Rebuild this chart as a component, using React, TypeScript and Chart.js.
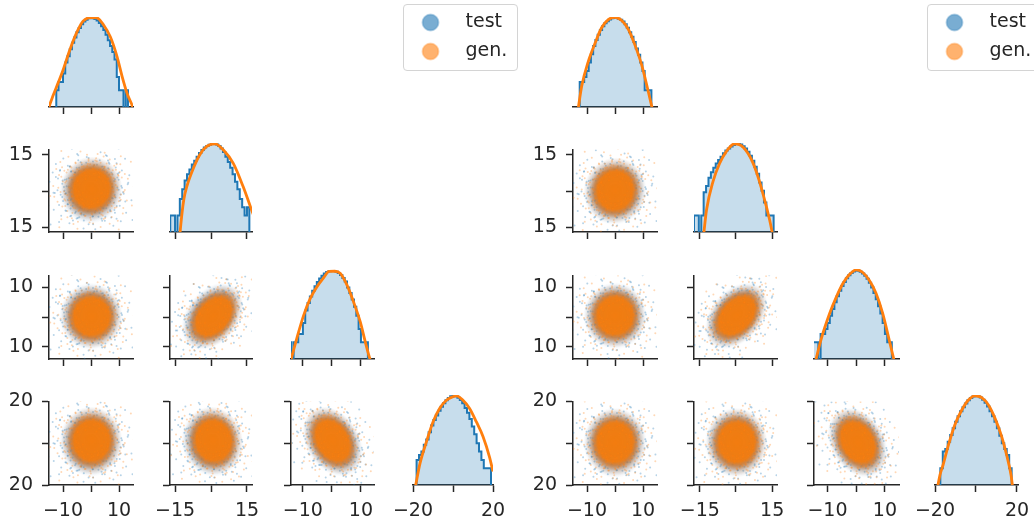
import React, { useEffect, useRef } from 'react';
import { Chart, registerables } from 'chart.js';

Chart.register(...registerables);

const FONT = "'DejaVu Sans', 'Liberation Sans', sans-serif";
const INK = '#262626';
Chart.defaults.font.family = FONT;
Chart.defaults.color = INK;

// ---------------- tick values and tick labels ----------------
const TICKS_V1 = [-10, 0, 10];
const TICKS_V2 = [-15, 0, 15];
const TICKS_V3 = [-10, 0, 10];
const TICKS_V4 = [-20, 0, 20];
const X_LABELS_V1 = ['−10', '', '10'];
const X_LABELS_V2 = ['−15', '', '15'];
const X_LABELS_V3 = ['−10', '', '10'];
const X_LABELS_V4 = ['−20', '', '20'];
const Y_LABELS_V2 = ['15', '', '15'];
const Y_LABELS_V3 = ['10', '', '10'];
const Y_LABELS_V4 = ['20', '', '20'];

// ---------------- axis limits ----------------
const LEFT_X_LIMITS = [[-15, 15], [-17.1, 17.1], [-14.1, 14.5], [-20, 20]];
const RIGHT_X_LIMITS = [[-15, 15], [-17.4, 17.0], [-14.7, 14.9], [-20, 20.5]];
const ROW_Y_LIMITS = [[0, 0], [-16.9, 17.3], [-14.1, 14.1], [-20, 20]];
const HIST_Y_LIMITS = [0.25, 440];

// ---------------- diagonal histograms (test) : counts per bin ----------------
const L_HIST_START = [-12.4, -17.0, -14.8, -18.2];
const L_HIST_WIDTH = [0.8, 1.0, 0.8, 1.2];
const L_COUNTS_V1 = [1, 2, 2, 4, 10, 17, 30, 52, 80, 125, 178, 240, 300, 350, 395, 410, 400, 375, 330, 268, 205, 150, 100, 64, 40, 24, 13, 3, 1, 1, 0, 1];
const L_COUNTS_V2 = [1, 1, 0, 1, 4, 9, 19, 32, 48, 72, 100, 140, 190, 245, 300, 340, 380, 405, 410, 385, 340, 275, 205, 140, 90, 55, 32, 17, 9, 4, 2, 1, 2];
const L_COUNTS_V3 = [1, 0, 1, 1, 2, 2, 5, 14, 26, 45, 72, 105, 150, 200, 250, 300, 340, 365, 375, 370, 350, 315, 265, 210, 155, 95, 60, 35, 19, 9, 3, 1, 1, 1];
const L_COUNTS_V4 = [2, 3, 4, 7, 11, 20, 35, 55, 80, 120, 165, 220, 285, 345, 395, 410, 395, 350, 290, 220, 150, 100, 60, 32, 17, 8, 4, 2, 1, 1, 1];

const R_HIST_START = [-12.6, -17.4, -14.8, -17.4];
const R_HIST_WIDTH = [0.8, 1.0, 0.8, 1.2];
const R_COUNTS_V1 = [2, 2, 3, 5, 10, 20, 40, 65, 100, 150, 205, 260, 310, 360, 395, 412, 405, 380, 350, 300, 240, 180, 125, 85, 55, 32, 19, 10, 5, 1, 1, 1, 0];
const R_COUNTS_V2 = [1, 1, 0, 1, 7, 12, 24, 38, 55, 78, 105, 140, 185, 235, 280, 330, 375, 405, 410, 385, 335, 275, 210, 150, 100, 60, 33, 16, 8, 3, 1, 1, 1];
const R_COUNTS_V3 = [1, 1, 0, 2, 2, 3, 5, 9, 16, 28, 46, 72, 108, 150, 205, 260, 315, 360, 385, 380, 350, 305, 250, 195, 140, 95, 60, 36, 20, 11, 5, 2, 1, 1];
const R_COUNTS_V4 = [1, 4, 5, 9, 16, 28, 48, 75, 115, 160, 215, 285, 340, 390, 412, 400, 355, 295, 230, 170, 115, 75, 48, 28, 15, 8, 5, 3, 1, 0];

// ---------------- diagonal density curves (gen.) : [x, scaled density] ----------------
const L_GEN_V1 = [[-16, 0.1], [-15.0, 0.25], [-13.5, 0.66], [-11.7, 1.9], [-10.0, 5.3], [-7.6, 28], [-5.2, 115], [-2.9, 305], [0, 420], [2.1, 412], [4.5, 226], [6.9, 85], [9.3, 16.4], [11.1, 3.2], [12.9, 0.77], [14.9, 0.25], [16, 0.1]];
const L_GEN_V2 = [[-13.0, 0.2], [-12.2, 1.0], [-11.3, 4], [-10.1, 11.3], [-7.3, 54], [-4.6, 168], [-1.8, 329], [1.7, 412], [5.2, 244], [9.3, 79], [13.4, 11.3], [16.9, 1.62], [18.5, 0.7]];
const L_GEN_V3 = [[-14.3, 0.2], [-12.1, 1.39], [-9.8, 9], [-7.5, 37.5], [-5.2, 99], [-2.9, 210], [-1.0, 360], [1.0, 365], [2.9, 305], [5.2, 115], [7.5, 27.8], [9.8, 5.3], [11.5, 1.03], [13.1, 0.25], [14.5, 0.1]];
const L_GEN_V4 = [[-18.9, 0.2], [-16.5, 1.5], [-13.3, 9], [-10, 47], [-6.7, 144], [-3.3, 283], [0, 382], [1.7, 412], [5, 283], [8.3, 144], [11.7, 47], [15, 14.1], [18.3, 2.5], [20, 0.77], [21.5, 0.3]];

const R_GEN_V1 = [[-13.2, 0.2], [-11.9, 1.39], [-9.5, 11.3], [-7.1, 50.6], [-4.8, 181], [-2.4, 354], [-0.2, 430], [2.4, 329], [4.8, 156], [7.1, 43.5], [9.5, 8.4], [11.9, 0.89], [13.4, 0.2]];
const R_GEN_V2 = [[-13.4, 0.2], [-12.2, 1.62], [-9.5, 17.7], [-6.8, 79], [-4.1, 210], [-0.6, 412], [2.2, 354], [5.7, 144], [8.4, 40.4], [11.2, 6.2], [14.0, 0.66], [15.2, 0.2]];
const R_GEN_V3 = [[-14.2, 0.2], [-12.3, 1.2], [-9.2, 11.3], [-6.9, 43.5], [-4.6, 134], [-2.3, 283], [0, 412], [2.3, 329], [4.6, 168], [6.9, 58.8], [9.2, 11.3], [11.5, 1.2], [13.3, 0.2]];
const R_GEN_V4 = [[-18.8, 0.2], [-17.5, 0.6], [-16.1, 1.29], [-13.5, 6.7], [-10.3, 37.5], [-7.0, 124], [-3.8, 283], [-0.5, 412], [2.8, 354], [6.0, 195], [9.3, 63], [12.5, 14.1], [15.0, 2.9], [17.1, 0.57], [17.9, 0.2]];

// ---------------- scatter clouds: centre, spread, correlation per pair ----------------
const LEFT_TEST_MEAN = [0, 0.5, 0.3, 0.8];
const LEFT_GEN_MEAN = [0.2, 1.0, 0.2, 1.2];
const LEFT_TEST_SD = [3.8, 4.3, 3.5, 5.2];
const LEFT_GEN_SD = [3.6, 4.1, 3.3, 5.0];
const LEFT_CORR = [0.03, 0.0, 0.35, 0.0, -0.05, -0.3]; // pairs (2,1) (3,1) (3,2) (4,1) (4,2) (4,3)
const RIGHT_TEST_MEAN = [0, 0, 0.5, 0.3];
const RIGHT_GEN_MEAN = [0, 0.3, 0.5, 0.4];
const RIGHT_TEST_SD = [3.8, 4.3, 3.5, 5.2];
const RIGHT_GEN_SD = [3.6, 4.2, 3.3, 5.0];
const RIGHT_CORR = [0.03, 0.0, 0.38, 0.0, 0.0, -0.28];

// sparse outlying samples, in standard-deviation units
const SPECKLE_U = [-2.1, 1.8, 0.3, -0.9, 2.6, -2.7, 1.1, -1.5, 0.7, 2.2, -3.1, 3.0, -0.4, 1.6, -2.4, 0.2, 2.9, -1.2, -3.4, 3.5, -2.0, 1.3, 2.4, -2.8, 0.9, -0.7, 3.8, -3.9, 1.9, -1.7, 2.7, -2.3, 1.5, -1.0, 0.5, -1.9, 2.0, -0.3, 1.2, -1.4, 4.1, -4.0, 0.1, -0.6, 3.2, -3.3, 2.8, -3.0, 4.3, -1.8, 1.7, -2.5, 0.0, 2.3, -1.1, 0.8, -0.8, 1.0, -2.2, 2.5, 3.3, -3.6, 1.4, -2.6, 3.6, -3.5, 0.4, -1.3, 2.1, -2.9, 4.5, -4.4, 1.8, -1.6, 3.9, -3.8, 0.6, -4.2, 2.6, -0.2];
const SPECKLE_V = [0.4, -1.2, 2.4, -2.2, 0.9, -0.6, 1.9, 1.7, -2.6, -2.0, 1.2, -0.3, 3.2, 2.8, -1.9, -3.3, 1.8, 2.9, -0.2, 0.6, 2.3, -3.0, 2.5, -2.4, 3.6, -3.7, -1.1, 0.9, -2.7, -2.9, -1.6, 1.1, 0.8, -1.6, 1.7, -0.9, 0.2, -2.0, -1.8, 0.6, 0.3, -1.4, 4.2, -4.1, 2.9, 2.6, -3.1, -3.0, -2.0, 4.0, 1.4, 0.0, 2.1, -0.8, -2.6, -1.4, 1.3, 2.2, -1.3, 1.5, -2.3, 1.8, 3.3, 3.1, 1.3, -1.8, -3.8, 3.5, -3.5, 2.0, 1.6, 0.3, 4.4, -4.3, -3.0, -3.2, -4.6, 2.7, 3.9, 4.7];

const LEGEND_LABELS = ['test', 'gen.'];

// ---------------- layout (pixels) ----------------
const LEFT_COL_PX = [[49, 133], [170, 252], [291, 374], [413, 493]];
const RIGHT_COL_PX = [[573, 657], [694, 777], [814, 899], [935, 1018]];
const ROW_PX = [[17, 107], [143, 232], [269, 359], [395, 485]];
const LEGEND_BOX_LEFT = [403, 927];
const PAD_L = 48, PAD_T = 14, PAD_R = 30, PAD_B = 34;

// ---------------- styles ----------------
const BLUE = '#1f77b4';
const ORANGE = '#ff7f0e';
const HIST_FILL = 'rgba(31,119,180,0.25)';
const GEN_BLOB_STOPS: [number, string][] = [[0, 'rgba(243,125,16,1)'], [0.58, 'rgba(243,125,16,0.96)'], [0.7, 'rgba(236,128,36,0.62)'], [0.84, 'rgba(244,140,52,0.18)'], [1, 'rgba(246,145,60,0)']];
const TEST_BLOB_STOPS: [number, string][] = [[0, 'rgba(70,100,130,0.85)'], [0.64, 'rgba(70,100,130,0.72)'], [0.8, 'rgba(85,120,155,0.32)'], [0.94, 'rgba(110,150,190,0.07)'], [1, 'rgba(110,150,190,0)']];
const SPECKLE_TEST = 'rgba(31,119,180,0.32)';
const SPECKLE_GEN = 'rgba(255,127,14,0.3)';

const FLOOR = 0.01;

function makeBlob(sxPx: number, syPx: number, rho: number, stops: [number, string][]) {
  const R = 3;
  const w = Math.ceil(2 * R * sxPx) + 2;
  const h = Math.ceil(2 * R * syPx) + 2;
  const c = document.createElement('canvas');
  c.width = w;
  c.height = h;
  const ctx = c.getContext('2d')!;
  ctx.translate(w / 2, h / 2);
  ctx.transform(sxPx, -syPx * rho, 0, -syPx * Math.sqrt(1 - rho * rho), 0, 0);
  const g = ctx.createRadialGradient(0, 0, 0, 0, 0, R);
  stops.forEach(([p, col]) => g.addColorStop(p, col));
  ctx.fillStyle = g;
  ctx.beginPath();
  ctx.arc(0, 0, R, 0, Math.PI * 2);
  ctx.fill();
  return c;
}

function makeMarker(rgb: string) {
  const c = document.createElement('canvas');
  c.width = 20;
  c.height = 20;
  const ctx = c.getContext('2d')!;
  ctx.beginPath();
  ctx.arc(10, 10, 8, 0, Math.PI * 2);
  ctx.fillStyle = `rgba(${rgb},0.6)`;
  ctx.fill();
  ctx.lineWidth = 1;
  ctx.strokeStyle = `rgba(${rgb},0.6)`;
  ctx.stroke();
  return c;
}

function xAxis(min: number, max: number, ticks: number[], labels: string[] | null) {
  return {
    type: 'linear', position: 'bottom', min, max,
    border: { display: true, color: INK, width: 1.5 },
    grid: { display: true, drawOnChartArea: false, drawTicks: true, tickLength: 7, tickWidth: 1.5, tickColor: INK },
    ticks: {
      color: INK, font: { family: FONT, size: 19 }, padding: 8, maxRotation: 0, minRotation: 0, autoSkip: false,
      callback: (_v: any, i: number) => (labels ? labels[i] : ''),
    },
    afterBuildTicks: (s: any) => { s.ticks = ticks.map((v) => ({ value: v })); },
    afterFit: (s: any) => { s.height = PAD_B; },
  };
}

function yAxis(min: number, max: number, ticks: number[], labels: string[] | null) {
  return {
    type: 'linear', position: 'left', min, max,
    border: { display: true, color: INK, width: 1.5 },
    grid: { display: true, drawOnChartArea: false, drawTicks: true, tickLength: 7, tickWidth: 1.5, tickColor: INK },
    ticks: {
      color: INK, font: { family: FONT, size: 19 }, padding: 9, autoSkip: false,
      callback: (_v: any, i: number) => (labels ? labels[i] : ''),
    },
    afterBuildTicks: (s: any) => { s.ticks = ticks.map((v) => ({ value: v })); },
    afterFit: (s: any) => { s.width = PAD_L; },
  };
}

function baseOptions(padLeft: number) {
  return {
    responsive: false,
    animation: false,
    devicePixelRatio: 1,
    events: [],
    layout: { padding: { left: padLeft, top: PAD_T, right: PAD_R, bottom: 0 } },
    plugins: { legend: { display: false }, tooltip: { enabled: false } },
  };
}

const ALL_TICKS = [TICKS_V1, TICKS_V2, TICKS_V3, TICKS_V4];
const ALL_X_LABELS = [X_LABELS_V1, X_LABELS_V2, X_LABELS_V3, X_LABELS_V4];
const ALL_Y_LABELS = [null, Y_LABELS_V2, Y_LABELS_V3, Y_LABELS_V4];

type Spec = { key: string; x0: number; x1: number; y0: number; y1: number; build: () => any };

function buildFigure(side: 'L' | 'R'): Spec[] {
  const isL = side === 'L';
  const colPx = isL ? LEFT_COL_PX : RIGHT_COL_PX;
  const xLim = isL ? LEFT_X_LIMITS : RIGHT_X_LIMITS;
  const hStart = isL ? L_HIST_START : R_HIST_START;
  const hWidth = isL ? L_HIST_WIDTH : R_HIST_WIDTH;
  const hCounts = isL ? [L_COUNTS_V1, L_COUNTS_V2, L_COUNTS_V3, L_COUNTS_V4] : [R_COUNTS_V1, R_COUNTS_V2, R_COUNTS_V3, R_COUNTS_V4];
  const gen = isL ? [L_GEN_V1, L_GEN_V2, L_GEN_V3, L_GEN_V4] : [R_GEN_V1, R_GEN_V2, R_GEN_V3, R_GEN_V4];
  const tMean = isL ? LEFT_TEST_MEAN : RIGHT_TEST_MEAN;
  const gMean = isL ? LEFT_GEN_MEAN : RIGHT_GEN_MEAN;
  const tSd = isL ? LEFT_TEST_SD : RIGHT_TEST_SD;
  const gSd = isL ? LEFT_GEN_SD : RIGHT_GEN_SD;
  const corr = isL ? LEFT_CORR : RIGHT_CORR;
  const specs: Spec[] = [];

  for (let r = 0; r < 4; r++) {
    for (let c = 0; c <= r; c++) {
      const [x0, x1] = colPx[c];
      const [y0, y1] = ROW_PX[r];
      const [xmin, xmax] = xLim[c];
      const xLabels = r === 3 ? ALL_X_LABELS[c] : null;
      if (r === c) {
        specs.push({
          key: `${side}${r}${c}`, x0, x1, y0, y1,
          build: () => {
            const counts = hCounts[r];
            const start = hStart[r];
            const w = hWidth[r];
            const pts: { x: number; y: number }[] = [{ x: start, y: FLOOR }];
            counts.forEach((n, i) => {
              const v = n > 0 ? n : FLOOR;
              pts.push({ x: start + i * w, y: v });
              pts.push({ x: start + (i + 1) * w, y: v });
            });
            pts.push({ x: start + counts.length * w, y: FLOOR });
            return {
              type: 'line',
              data: {
                datasets: [
                  {
                    label: 'gen.', data: gen[r].map(([x, y]) => ({ x, y })), borderColor: ORANGE, borderWidth: 2.8,
                    pointRadius: 0, cubicInterpolationMode: 'monotone', fill: false, order: 0, clip: 0,
                  },
                  {
                    label: 'test', data: pts, borderColor: BLUE, borderWidth: 2, backgroundColor: HIST_FILL,
                    fill: 'start', pointRadius: 0, tension: 0, order: 1, clip: 0,
                  },
                ],
              },
              options: {
                ...baseOptions(PAD_L),
                scales: {
                  x: xAxis(xmin, xmax, ALL_TICKS[c], xLabels),
                  y: { type: 'logarithmic', display: false, min: HIST_Y_LIMITS[0], max: HIST_Y_LIMITS[1] },
                },
              },
            };
          },
        });
      } else {
        const [ymin, ymax] = ROW_Y_LIMITS[r];
        const rho = corr[(r * (r - 1)) / 2 + c];
        const yLabels = c === 0 ? ALL_Y_LABELS[r] : null;
        specs.push({
          key: `${side}${r}${c}`, x0, x1, y0, y1,
          build: () => {
            const pxX = (x1 - x0) / (xmax - xmin);
            const pxY = (y1 - y0) / (ymax - ymin);
            const s = Math.sqrt(1 - rho * rho);
            const cloud = (mean: number[], sd: number[], pairs: [number, number][]) =>
              pairs.map(([u, v]) => ({ x: mean[c] + sd[c] * u, y: mean[r] + sd[r] * (rho * u + s * v) }));
            const testPairs: [number, number][] = [];
            const genPairs: [number, number][] = [];
            SPECKLE_U.forEach((u, i) => {
              const v = SPECKLE_V[i];
              testPairs.push([u, v], [-0.75 * v, 0.75 * u], [0.62 * v, -0.62 * u]);
              genPairs.push([v, u], [-0.75 * u, -0.75 * v], [0.62 * u, -0.62 * v]);
            });
            return {
              type: 'scatter',
              data: {
                datasets: [
                  { label: 'gen.', data: cloud(gMean, gSd, genPairs), pointRadius: 1, backgroundColor: SPECKLE_GEN, borderWidth: 0, order: 0, clip: 0 },
                  {
                    label: 'gen. core', data: [{ x: gMean[c], y: gMean[r] }], pointRadius: 3,
                    pointStyle: makeBlob(gSd[c] * pxX, gSd[r] * pxY, rho, GEN_BLOB_STOPS), order: 1, clip: 0,
                  },
                  { label: 'test', data: cloud(tMean, tSd, testPairs), pointRadius: 1, backgroundColor: SPECKLE_TEST, borderWidth: 0, order: 2, clip: 0 },
                  {
                    label: 'test core', data: [{ x: tMean[c], y: tMean[r] }], pointRadius: 3,
                    pointStyle: makeBlob(tSd[c] * pxX, tSd[r] * pxY, rho, TEST_BLOB_STOPS), order: 3, clip: 0,
                  },
                ],
              },
              options: {
                ...baseOptions(0),
                scales: {
                  x: xAxis(xmin, xmax, ALL_TICKS[c], xLabels),
                  y: yAxis(ymin, ymax, ALL_TICKS[r], yLabels),
                },
              },
            };
          },
        });
      }
    }
  }
  return specs;
}

const SPECS: Spec[] = [...buildFigure('L'), ...buildFigure('R')];

function Panel({ spec }: { spec: Spec }) {
  const ref = useRef<HTMLCanvasElement>(null);
  const w = spec.x1 - spec.x0 + PAD_L + PAD_R;
  const h = spec.y1 - spec.y0 + PAD_T + PAD_B;
  useEffect(() => {
    const chart = new Chart(ref.current as HTMLCanvasElement, spec.build());
    return () => chart.destroy();
  }, [spec]);
  return (
    <canvas
      ref={ref}
      width={w}
      height={h}
      style={{ position: 'absolute', left: spec.x0 - PAD_L, top: spec.y0 - PAD_T, width: w, height: h }}
    />
  );
}

function LegendChart({ boxLeft }: { boxLeft: number }) {
  const ref = useRef<HTMLCanvasElement>(null);
  useEffect(() => {
    const chart = new Chart(ref.current as HTMLCanvasElement, {
      type: 'scatter',
      data: {
        datasets: [
          { label: LEGEND_LABELS[0], data: [], pointStyle: makeMarker('31,119,180') },
          { label: LEGEND_LABELS[1], data: [], pointStyle: makeMarker('255,127,14') },
        ],
      },
      options: {
        responsive: false,
        animation: false,
        devicePixelRatio: 1,
        events: [],
        layout: { padding: 0 },
        scales: { x: { display: false }, y: { display: false } },
        plugins: {
          tooltip: { enabled: false },
          legend: {
            display: true,
            position: 'top',
            align: 'start',
            maxHeight: 120,
            labels: {
              usePointStyle: true,
              pointStyleWidth: 51,
              padding: 10,
              color: INK,
              font: { family: FONT, size: 19 },
            },
          },
        },
      } as any,
    });
    return () => chart.destroy();
  }, []);
  return (
    <canvas
      ref={ref}
      width={130}
      height={180}
      style={{ position: 'absolute', left: boxLeft - 8, top: 3, width: 130, height: 180 }}
    />
  );
}

export default function App() {
  return (
    <div style={{ position: 'absolute', left: 0, top: 0, width: 1034, height: 523, overflow: 'hidden', background: '#fff' }}>
      {LEGEND_BOX_LEFT.map((l) => (
        <div
          key={`box${l}`}
          style={{
            position: 'absolute', left: l, top: 4, width: 115, height: 67, border: '1px solid #d4d4d4',
            borderRadius: 4, boxSizing: 'border-box', background: '#fff',
          }}
        />
      ))}
      {SPECS.map((s) => (
        <Panel key={s.key} spec={s} />
      ))}
      {LEGEND_BOX_LEFT.map((l) => (
        <LegendChart key={`lg${l}`} boxLeft={l} />
      ))}
    </div>
  );
}
